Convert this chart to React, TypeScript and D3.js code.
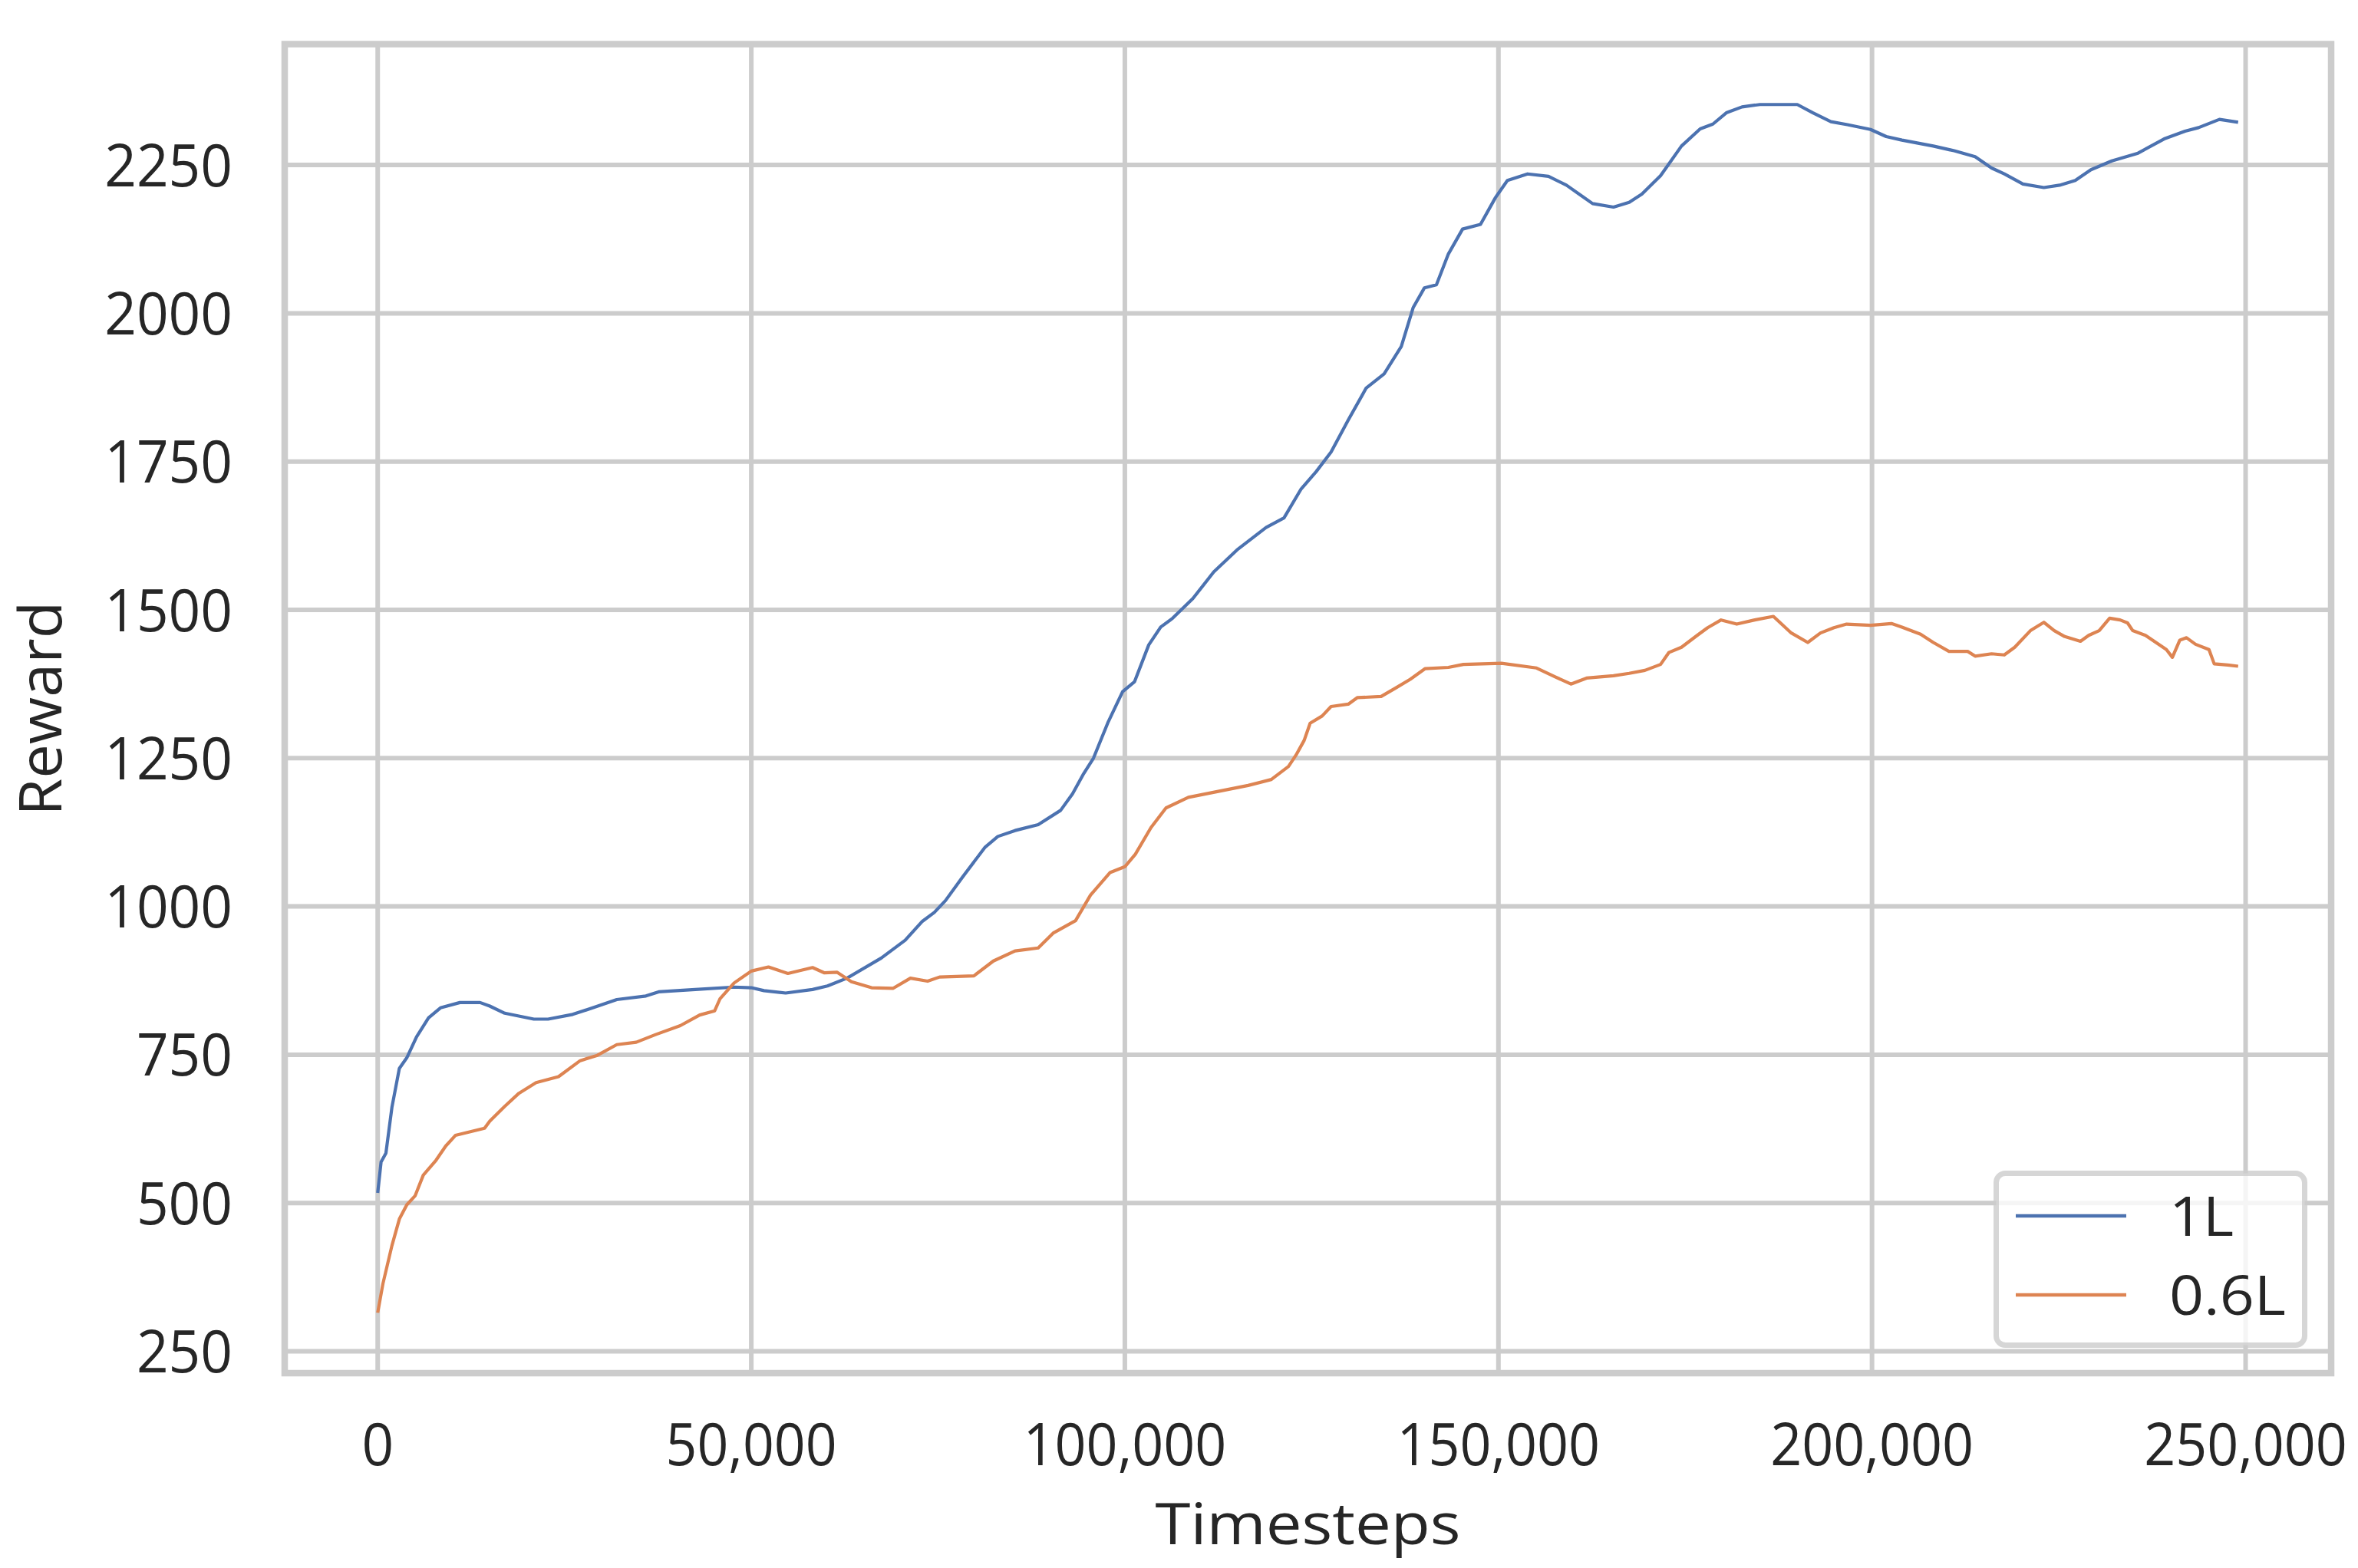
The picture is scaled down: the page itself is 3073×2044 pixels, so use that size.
import React from "react";
import * as d3 from "d3";

const blueSteps = [0, 450, 1100, 1900, 2900, 3900, 5200, 6800, 8400, 11000, 13700, 15000, 17000, 20900, 22800, 26100, 29000, 32000, 35900, 37600, 42500, 47700, 50000, 51700, 54600, 58200, 60200, 62800, 67400, 70600, 72900, 74500, 76000, 78300, 81300, 83000, 85300, 88400, 91400, 93000, 94400, 95800, 97700, 99700, 101300, 103200, 104800, 106400, 109100, 111900, 115000, 118900, 121300, 123600, 125600, 127600, 129900, 132300, 134700, 137000, 138600, 140100, 141700, 143300, 145200, 147600, 149600, 151200, 153900, 156700, 159100, 162600, 165400, 167500, 169200, 171700, 174500, 177000, 178700, 180500, 182600, 185000, 190000, 192100, 194500, 196700, 199800, 201900, 204000, 208200, 211000, 213800, 216000, 217700, 220200, 223000, 225100, 227200, 229300, 232100, 235600, 239100, 241900, 243700, 246500, 249000];
const blueValues = [517, 569, 584, 661, 727, 745, 780, 812, 829, 838, 838, 832, 820, 810, 810, 818, 830, 843, 849, 856, 860, 864, 863, 858, 854, 860, 866, 879, 913, 943, 975, 990, 1010, 1050, 1100, 1118, 1128, 1138, 1162, 1190, 1222, 1250, 1309, 1362, 1379, 1441, 1471, 1486, 1519, 1564, 1601, 1639, 1655, 1704, 1733, 1766, 1820, 1874, 1898, 1944, 2010, 2043, 2048, 2100, 2142, 2150, 2195, 2224, 2235, 2231, 2216, 2185, 2179, 2187, 2201, 2232, 2282, 2311, 2319, 2338, 2348, 2352, 2352, 2338, 2323, 2318, 2310, 2298, 2292, 2282, 2274, 2264, 2245, 2235, 2218, 2212, 2216, 2224, 2242, 2257, 2270, 2294, 2307, 2313, 2327, 2322];

const orangeSteps = [0, 700, 1900, 2900, 3900, 5000, 6100, 7800, 9100, 10400, 14300, 15000, 17000, 18900, 21200, 24200, 27100, 29400, 32000, 34600, 37200, 40500, 43100, 45100, 45800, 47700, 50000, 52300, 54900, 58200, 59800, 61500, 63400, 66100, 69000, 71300, 73600, 75200, 79800, 82400, 85300, 88400, 90400, 93400, 95400, 98000, 100000, 101400, 103500, 105500, 108500, 112500, 116500, 119600, 121900, 122900, 124000, 124800, 126400, 127600, 129900, 131100, 134300, 136200, 138200, 140200, 143300, 145300, 150400, 155100, 157600, 159700, 161800, 165400, 167500, 169600, 171700, 172800, 174500, 176600, 178000, 179800, 181900, 184300, 186800, 189200, 191400, 193100, 194900, 196600, 199800, 202600, 204000, 206500, 208200, 210300, 212800, 213800, 216000, 217700, 219100, 221200, 223000, 224400, 225800, 227900, 229000, 230400, 231800, 233200, 234200, 234900, 236600, 238000, 239400, 240200, 241200, 242100, 243300, 245100, 245800, 247600, 249000];
const orangeValues = [315, 364, 428, 473, 497, 512, 547, 572, 596, 614, 626, 638, 663, 685, 703, 713, 740, 749, 767, 771, 784, 799, 817, 824, 844, 871, 891, 898, 887, 897, 888, 889, 873, 863, 862, 879, 874, 881, 883, 908, 925, 930, 955, 976, 1019, 1057, 1067, 1088, 1133, 1166, 1184, 1194, 1204, 1214, 1236, 1255, 1280, 1309, 1321, 1337, 1341, 1352, 1354, 1368, 1383, 1401, 1403, 1408, 1410, 1402, 1387, 1375, 1385, 1389, 1393, 1398, 1408, 1428, 1437, 1457, 1470, 1483, 1476, 1483, 1489, 1461, 1445, 1461, 1470, 1476, 1474, 1477, 1471, 1459, 1445, 1430, 1430, 1422, 1426, 1424, 1437, 1465, 1479, 1465, 1455, 1447, 1457, 1465, 1486, 1483, 1478, 1465, 1457, 1445, 1433, 1420, 1449, 1453, 1442, 1433, 1409, 1407, 1405];

const seriesNames = ["1L", "0.6L"];
const seriesColors = ["#4c72b0", "#dd8452"];
const xTicks = [0, 50000, 100000, 150000, 200000, 250000];
const yTicks = [250, 500, 750, 1000, 1250, 1500, 1750, 2000, 2250];
const xLabel = "Timesteps";
const yLabel = "Reward";

const W = 3073;
const H = 2044;
const left = 371, right = 3038, top = 57.5, bottom = 1790;
const FONT = "'Open Sans', 'Noto Sans', sans-serif";
const TEXT = "#262626";
const GRID = "#cccccc";

const DIGIT_W = 41.7;
const COMMA_W = 14.5;
const tickLen = (s: string) =>
  s.split("").reduce((a, c) => a + (c === "," ? COMMA_W : DIGIT_W), 0);

export default function App() {
  const series = [
    blueSteps.map((s, i) => [s, blueValues[i]] as [number, number]),
    orangeSteps.map((s, i) => [s, orangeValues[i]] as [number, number]),
  ];
  const allX = [...blueSteps, ...orangeSteps];
  const allY = [...blueValues, ...orangeValues];
  const [x0, x1] = d3.extent(allX) as [number, number];
  const [y0, y1] = d3.extent(allY) as [number, number];
  const px = (x1 - x0) * 0.05;
  const py = (y1 - y0) * 0.05;
  const x = d3.scaleLinear().domain([x0 - px, x1 + px]).range([left, right]);
  const y = d3.scaleLinear().domain([y0 - py, y1 + py]).range([bottom, top]);
  const line = d3.line<[number, number]>().x((d) => x(d[0])).y((d) => y(d[1]));
  const fmt = d3.format(",");

  const legX = 2598, legY = 1526, legW = 409, legH = 231;
  const legRows = [1585, 1688];
  const legLens = [84, 152];

  return (
    <svg width={W} height={H} style={{ position: "absolute", left: 0, top: 0, background: "#fff" }} fontFamily={FONT}>
      <rect x={0} y={0} width={W} height={H} fill="#fff" />
      {xTicks.map((t) => (
        <line key={"gx" + t} x1={x(t)} x2={x(t)} y1={top} y2={bottom} stroke={GRID} strokeWidth={6} />
      ))}
      {yTicks.map((t) => (
        <line key={"gy" + t} x1={left} x2={right} y1={y(t)} y2={y(t)} stroke={GRID} strokeWidth={6} />
      ))}
      {series.map((s, i) => (
        <path key={"s" + i} d={line(s) || ""} fill="none" stroke={seriesColors[i]} strokeWidth={4.2} strokeLinejoin="round" strokeLinecap="butt" />
      ))}
      <rect x={left} y={top} width={right - left} height={bottom - top} fill="none" stroke={GRID} strokeWidth={8.5} />
      {xTicks.map((t) => {
        const s = fmt(t);
        return (
          <text key={"tx" + t} x={x(t)} y={1910} textAnchor="middle" fontSize={76.6} fill={TEXT} textLength={tickLen(s)} lengthAdjust="spacingAndGlyphs">
            {s}
          </text>
        );
      })}
      {yTicks.map((t) => {
        const s = String(t);
        return (
          <text key={"ty" + t} x={303} y={y(t) + 27.5} textAnchor="end" fontSize={76.6} fill={TEXT} textLength={tickLen(s)} lengthAdjust="spacingAndGlyphs">
            {s}
          </text>
        );
      })}
      <text x={(left + right) / 2} y={2013} textAnchor="middle" fontSize={74.6} fill={TEXT} textLength={398} lengthAdjust="spacingAndGlyphs">
        {xLabel}
      </text>
      <text transform={`translate(80, ${(top + bottom) / 2}) rotate(-90)`} textAnchor="middle" fontSize={77} fill={TEXT} textLength={280} lengthAdjust="spacingAndGlyphs">
        {yLabel}
      </text>
      <g>
        <rect x={legX + 3.5} y={legY + 3.5} width={legW - 7} height={legH - 7} rx={12} ry={12} fill="#fff" fillOpacity={0.8} stroke={GRID} strokeOpacity={0.8} strokeWidth={7} />
        {seriesNames.map((n, i) => (
          <g key={n}>
            <line x1={2627} x2={2771} y1={legRows[i]} y2={legRows[i]} stroke={seriesColors[i]} strokeWidth={4.5} />
            <text x={2827} y={legRows[i] + 26} fontSize={71.4} fill={TEXT} textLength={legLens[i]} lengthAdjust="spacingAndGlyphs">
              {n}
            </text>
          </g>
        ))}
      </g>
    </svg>
  );
}
